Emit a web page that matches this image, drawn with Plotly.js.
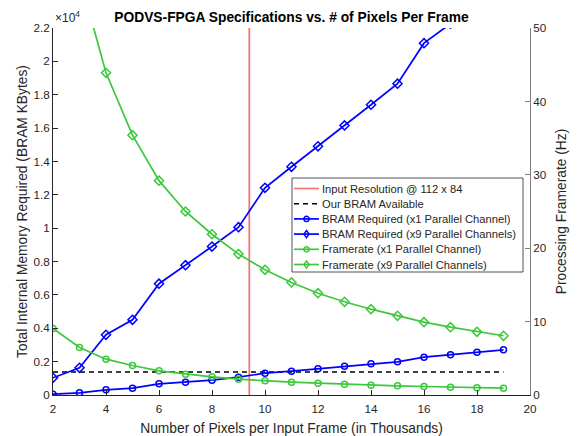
<!DOCTYPE html>
<html>
<head>
<meta charset="utf-8">
<script src="https://cdn.plot.ly/plotly-3.0.1.min.js"></script>
<style>html,body{margin:0;padding:0;background:#fff;}#chart{width:581px;height:436px;}</style>
</head>
<body>
<div id="chart"></div>
<script>
// ---- data ----
var pixelsK = [2,3,4,5,6,7,8,9,10,11,12,13,14,15,16,17,18,19];
var bramX1 = [50,130,310,410,670,770,890,1070,1310,1430,1570,1730,1870,1990,2270,2410,2570,2710];
var bramX9 = [1030,1630,3610,4510,6670,7780,8900,10060,12420,13680,14910,16160,17400,18660,21090,22260,23800,25200];
var fpsX1 = [9.06,6.47,4.88,4.02,3.29,2.84,2.47,2.16,1.93,1.75,1.61,1.47,1.34,1.25,1.16,1.07,0.98,0.93];
var fpsX9 = [81,57,43.9,35.4,29.2,25.0,21.9,19.2,17.06,15.33,13.87,12.70,11.69,10.79,9.92,9.24,8.61,8.07];
var bramAvailX = [2,19];
var bramAvail = [1380,1380];
var inputResX = [9.408,9.408];
var inputResY = [0,22000];
var leftTickVals = [0,2000,4000,6000,8000,10000,12000,14000,16000,18000,20000,22000];
var leftTickText = ['0','0.2','0.4','0.6','0.8','1','1.2','1.4','1.6','1.8','2','2.2'];
var legendNames = ['Input Resolution @ 112 x 84','Our BRAM Available','BRAM Required (x1 Parallel Channel)','BRAM Required (x9 Parallel Channels)','Framerate (x1 Parallel Channel)','Framerate (x9 Parallel Channels)'];

// ---- styles ----
var FONT = 'Liberation Sans, Arial, sans-serif';
var TXT = '#262626';
var RED = '#f27676', BLUE = '#0000ff', GREEN = '#3cc83c', BLACK = '#000000';
var LW = 1.7;
var styles = [
  {color: RED, dash: 'solid', marker: null},
  {color: BLACK, dash: '5px,4px', marker: null},
  {color: BLUE, dash: 'solid', marker: 'circle'},
  {color: BLUE, dash: 'solid', marker: 'diamond'},
  {color: GREEN, dash: 'solid', marker: 'circle'},
  {color: GREEN, dash: 'solid', marker: 'diamond'}
];

var L = 53, R = 51, T = 28, B = 41, W = 581, H = 436;
var PW = W - L - R, PH = H - T - B;
function px(x){ return (x - L) / PW; }
function py(y){ return (H - B - y) / PH; }

var traces = [
  {x: inputResX, y: inputResY, mode: 'lines', line: {color: RED, width: 1.8}, yaxis: 'y', showlegend: false, hoverinfo: 'skip'},
  {x: bramAvailX, y: bramAvail, mode: 'lines', line: {color: BLACK, width: 1.5, dash: '5px,4px'}, yaxis: 'y', showlegend: false},
  {x: pixelsK, y: bramX1, mode: 'lines+markers', line: {color: BLUE, width: LW}, marker: {symbol: 'circle-open', size: 6, line: {width: 1.5, color: BLUE}}, yaxis: 'y', showlegend: false},
  {x: pixelsK, y: bramX9, mode: 'lines+markers', line: {color: BLUE, width: LW}, marker: {symbol: 'diamond-open', size: 7, line: {width: 1.5, color: BLUE}}, yaxis: 'y', showlegend: false},
  {x: pixelsK, y: fpsX1, mode: 'lines+markers', line: {color: GREEN, width: LW}, marker: {symbol: 'circle-open', size: 6, line: {width: 1.5, color: GREEN}}, yaxis: 'y2', showlegend: false},
  {x: pixelsK, y: fpsX9, mode: 'lines+markers', line: {color: GREEN, width: LW}, marker: {symbol: 'diamond-open', size: 7, line: {width: 1.5, color: GREEN}}, yaxis: 'y2', showlegend: false}
];

// ---- manual legend (box, samples, text) ----
var shapes = [];
var annotations = [];
shapes.push({type: 'rect', xref: 'paper', yref: 'paper', x0: px(292), x1: px(523), y0: py(272), y1: py(178),
  fillcolor: '#ffffff', line: {color: TXT, width: 0.8}, layer: 'above'});
for (var i = 0; i < legendNames.length; i++) {
  var yy = py(188.5 + 15.2 * i);
  var s = styles[i];
  shapes.push({type: 'line', xref: 'paper', yref: 'paper', x0: px(294), x1: px(319), y0: yy, y1: yy,
    line: {color: s.color, width: (i === 1 ? 1.5 : LW), dash: s.dash}, layer: 'above'});
  if (s.marker === 'circle') {
    shapes.push({type: 'circle', xref: 'paper', yref: 'paper', xsizemode: 'pixel', ysizemode: 'pixel',
      xanchor: px(306.5), yanchor: yy, x0: -2.6, x1: 2.6, y0: -2.6, y1: 2.6,
      line: {color: s.color, width: 1.4}, layer: 'above'});
  } else if (s.marker === 'diamond') {
    shapes.push({type: 'path', xref: 'paper', yref: 'paper', xsizemode: 'pixel', ysizemode: 'pixel',
      xanchor: px(306.5), yanchor: yy, path: 'M0,3.6 L2.6,0 L0,-3.6 L-2.6,0 Z',
      line: {color: s.color, width: 1.4}, layer: 'above'});
  }
  annotations.push({xref: 'paper', yref: 'paper', x: px(319.5), y: yy, xanchor: 'left', yanchor: 'middle',
    text: legendNames[i], showarrow: false, font: {family: FONT, size: 11.2, color: TXT}});
}
annotations.push({xref: 'paper', yref: 'paper', x: 0, y: py(17), xanchor: 'left', yanchor: 'middle',
  text: '\u00d710<sup>4</sup>', showarrow: false, font: {family: FONT, size: 12, color: TXT}});

var layout = {
  width: W, height: H,
  margin: {l: L, r: R, t: T, b: B, pad: 0},
  paper_bgcolor: '#ffffff', plot_bgcolor: '#ffffff',
  font: {family: FONT, color: TXT, size: 11.7},
  title: {text: '<b>PODVS-FPGA Specifications vs. # of Pixels Per Frame</b>', font: {family: FONT, size: 13.8, color: '#000'},
    xref: 'paper', x: 0.5, xanchor: 'center', yref: 'container', y: 1 - 17/H, yanchor: 'middle'},
  showlegend: false,
  xaxis: {range: [2, 20], tickvals: [2,4,6,8,10,12,14,16,18,20], ticks: 'inside', ticklen: 5, tickcolor: TXT,
    ticklabelstandoff: 3,
    showline: true, linecolor: TXT, linewidth: 1, showgrid: false, zeroline: false, automargin: false,
    tickfont: {family: FONT, size: 11.7, color: TXT},
    title: {text: 'Number of Pixels per Input Frame (in Thousands)', font: {family: FONT, size: 13.8, color: TXT}, standoff: 9}},
  yaxis: {range: [0, 22000], tickvals: leftTickVals, ticktext: leftTickText, ticks: 'inside', ticklen: 5, tickcolor: TXT,
    showline: true, linecolor: TXT, linewidth: 1, showgrid: false, zeroline: false, automargin: false,
    tickfont: {family: FONT, size: 11.7, color: TXT},
    title: {text: 'Total Internal Memory Required (BRAM KBytes)', font: {family: FONT, size: 13.8, color: TXT}, standoff: 2}},
  yaxis2: {range: [0, 50], tickvals: [0,10,20,30,40,50], overlaying: 'y', side: 'right', ticks: 'inside', ticklen: 5, tickcolor: '#808080',
    showline: true, linecolor: '#808080', linewidth: 1, showgrid: false, zeroline: false, automargin: false,
    tickfont: {family: FONT, size: 11.7, color: TXT},
    title: {text: 'Processing Framerate (Hz)', font: {family: FONT, size: 13.8, color: TXT}, standoff: 10}},
  shapes: shapes,
  annotations: annotations
};

Plotly.newPlot('chart', traces, layout, {staticPlot: true, displayModeBar: false});
</script>
</body>
</html>
